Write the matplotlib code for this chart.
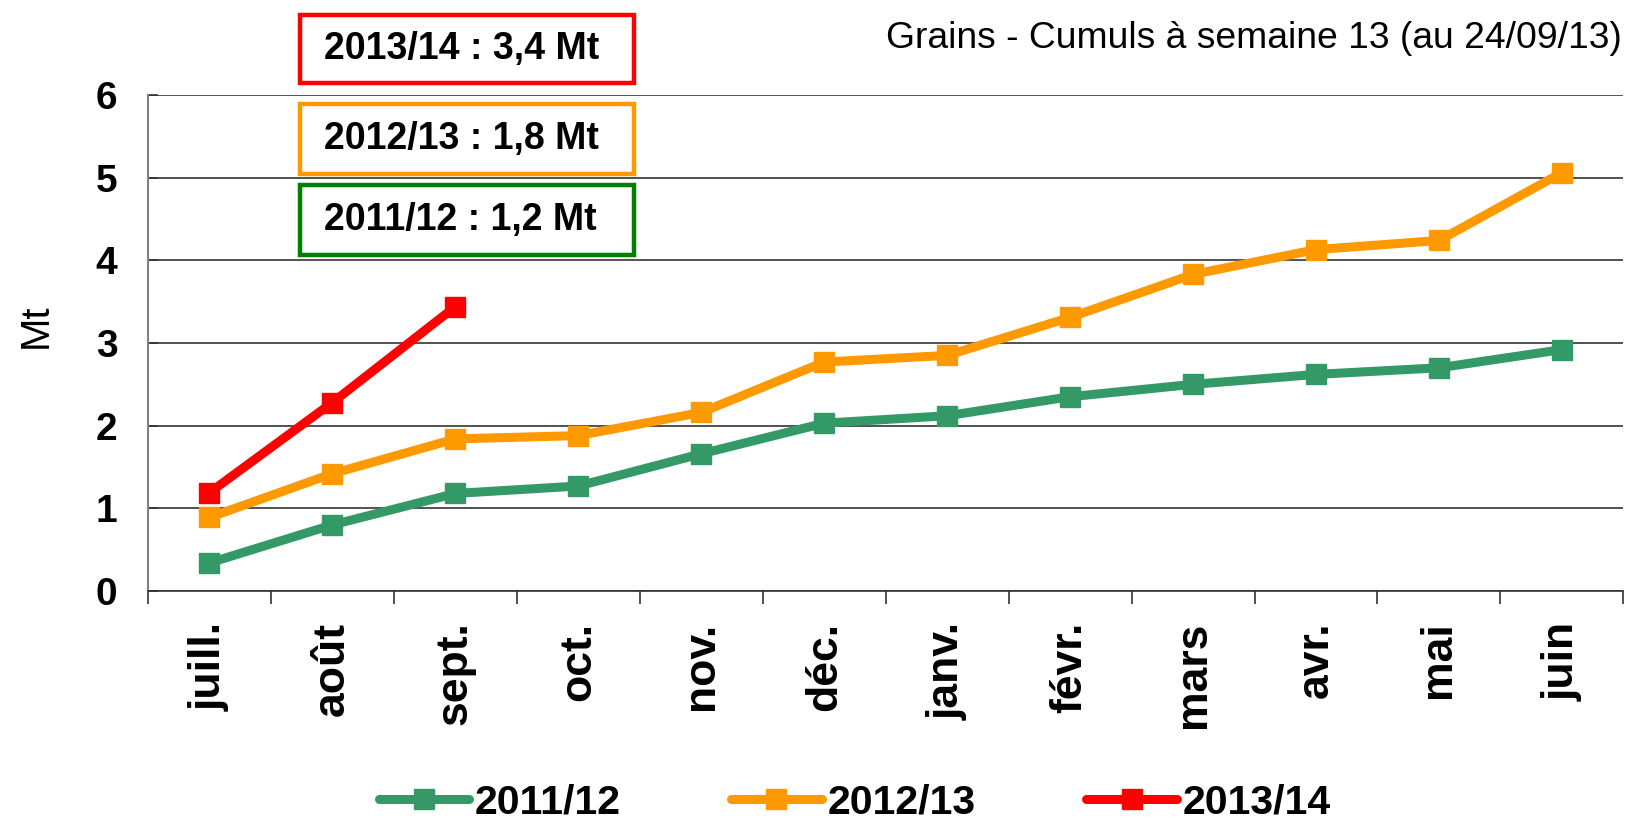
import numpy as np
import matplotlib
matplotlib.use("Agg")
from matplotlib import pyplot as plt
from matplotlib.patches import Rectangle

plt.rcParams["font.family"] = ["Liberation Sans", "DejaVu Sans"]

months = ["juill.", "août", "sept.", "oct.", "nov.", "déc.", "janv.",
          "févr.", "mars", "avr.", "mai", "juin"]
s2011 = [0.34, 0.80, 1.18, 1.27, 1.66, 2.03, 2.12, 2.35, 2.50, 2.62, 2.70, 2.92]
s2012 = [0.89, 1.42, 1.84, 1.88, 2.16, 2.77, 2.85, 3.31, 3.83, 4.13, 4.24, 5.06]
s2013 = [1.19, 2.28, 3.44]
seasons = ["2011/12", "2012/13", "2013/14"]
colors = ["#339966", "#FF9900", "#FF0000"]
box_labels = ["2013/14 : 3,4 Mt", "2012/13 : 1,8 Mt", "2011/12 : 1,2 Mt"]
box_colors = ["#FF0000", "#FF9900", "#008000"]
title = "Grains - Cumuls à semaine 13 (au 24/09/13)"

W, H = 1625, 823
fig = plt.figure(figsize=(W / 100, H / 100), dpi=100)
ax = fig.add_axes([148 / W, 1 - 591 / H, 1 - 148 / W - 0.001, (591 - 95) / H])

x = np.arange(len(months))
for vals, col, lab in zip([s2011, s2012, s2013], colors, seasons):
    ax.plot(x[:len(vals)], vals, color=col, lw=6.5, marker="s", ms=14,
            solid_capstyle="round", label=lab, zorder=3)

ax.set_xlim(-0.5, len(months) - 0.5)
ax.set_ylim(0, 6)
ax.set_yticks(range(7))
ax.yaxis.grid(True, color="#333333", lw=1.2)
ax.set_axisbelow(True)
ax.set_xticks(x)
ax.set_xticklabels(months, rotation=90, fontsize=32, fontweight="bold")
ax.set_xticks(np.arange(-0.5, len(months)), minor=True)
ax.tick_params(axis="x", which="major", length=0, pad=22)
ax.tick_params(axis="x", which="minor", length=9, width=1.2, color="#333333", direction="out")
ax.tick_params(axis="y", labelsize=28, length=7, width=1.2, color="#333333",
               direction="in", pad=22)
for t in ax.get_yticklabels():
    t.set_fontweight("bold")
for s in ["top", "right"]:
    ax.spines[s].set_visible(False)
ax.spines["left"].set_color("#808080")
ax.spines["left"].set_linewidth(1.5)
ax.spines["bottom"].set_color("#333333")
ax.spines["bottom"].set_linewidth(1.2)

fig.text(36 / W, 1 - 326 / H, "Mt", rotation=90, fontsize=29, ha="center", va="center")
fig.text(1622 / W, 1 - 39 / H, title, fontsize=26.8, ha="right", va="center")

# boxes with season totals
box_y = [(14.5, 83), (104, 174), (185, 255)]
for (y0, y1), lab, col in zip(box_y, box_labels, box_colors):
    fig.patches.append(Rectangle((300 / W, 1 - y1 / H), (634 - 300) / W, (y1 - y0) / H,
                                 transform=fig.transFigure, fill=False, ec=col, lw=3.2))
    fig.text(324 / W, 1 - (y0 + y1) / 2 / H, lab, fontsize=27, fontweight="bold",
             ha="left", va="center")

fig.legend(loc="center", bbox_to_anchor=(0.526, 0.025), ncol=3, frameon=False,
           prop={"size": 29.5, "weight": "bold"}, handlelength=2.2, handletextpad=0.15,
           columnspacing=2.7, numpoints=1, borderpad=0, borderaxespad=0)

fig.savefig("out.png", dpi=100)
